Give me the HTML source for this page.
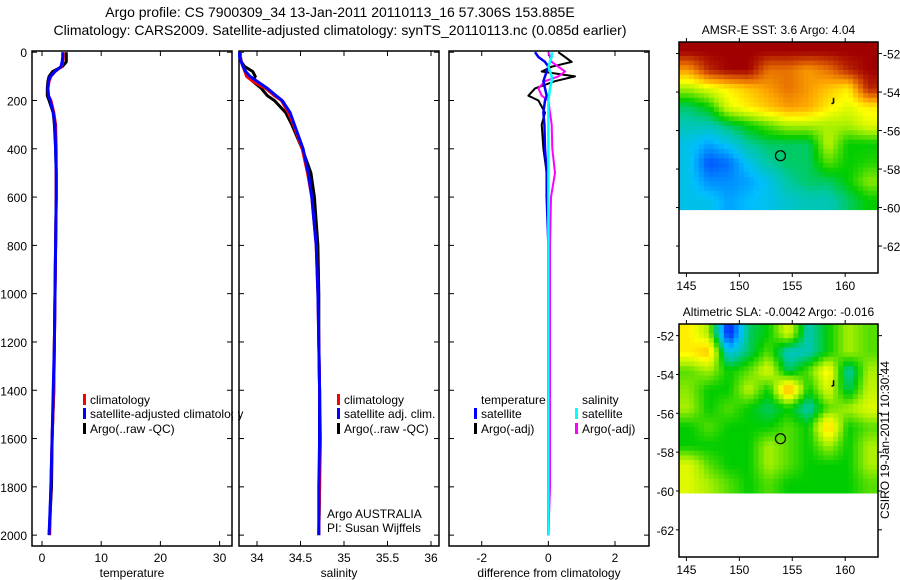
<!DOCTYPE html>
<html><head><meta charset="utf-8"><style>
body{margin:0;background:#fff;}
svg{display:block;font-family:"Liberation Sans",sans-serif;}
text{fill:#000;}
</style></head><body>
<svg id="fig" width="900" height="580" viewBox="0 0 900 580">
<rect width="900" height="580" fill="#fff"/>
<text x="340" y="17" font-size="14" text-anchor="middle">Argo profile: CS 7900309_34 13-Jan-2011 20110113_16 57.306S 153.885E</text>
<text x="340" y="35" font-size="14" text-anchor="middle">Climatology: CARS2009. Satellite-adjusted climatology: synTS_20110113.nc (0.085d earlier)</text>
<g id="g"></g>
</svg>
<script>
// ---- data ----
const depths = [0,20,40,60,80,100,120,150,180,200,250,300,400,500,600,800,1000,1200,1400,1600,1800,2000];
const tempClim = [3.6,3.6,3.5,3.3,2.2,1.5,1.2,1.0,1.1,1.5,2.0,2.3,2.4,2.4,2.4,2.3,2.2,2.1,2.0,1.7,1.5,1.3];
const tempSat  = [3.5,3.5,3.4,3.2,2.2,1.4,1.1,1.0,1.1,1.4,1.9,2.2,2.3,2.4,2.4,2.3,2.2,2.1,1.9,1.7,1.5,1.2];
const tempArgo = [4.1,4.1,4.1,3.4,1.8,1.2,1.0,0.9,0.9,1.2,1.9,2.1,2.3,2.4,2.4,2.3,2.2,2.1,2.0,1.7,1.6,1.2];
const salClim = [33.81,33.81,33.82,33.84,33.86,33.88,33.95,34.10,34.20,34.28,34.36,34.42,34.52,34.58,34.63,34.68,34.70,34.71,34.72,34.73,34.72,34.71];
const salSat  = [33.80,33.80,33.82,33.84,33.87,33.92,34.00,34.12,34.22,34.29,34.38,34.43,34.53,34.59,34.63,34.68,34.70,34.71,34.72,34.72,34.71,34.71];
const salArgo = [33.80,33.81,33.82,33.86,33.95,33.98,33.95,34.05,34.12,34.20,34.33,34.40,34.52,34.62,34.66,34.70,34.71,34.71,34.72,34.72,34.72,34.71];
const dTempSat  = [-0.4,-0.3,-0.1,0.0,-0.05,-0.1,-0.15,-0.1,-0.05,-0.1,-0.15,-0.12,-0.1,-0.05,-0.05,0,0,0,0,0,0,0];
const dTempArgo = [0.3,0.5,0.7,0.1,-0.2,0.8,0.2,-0.4,-0.6,-0.3,-0.1,-0.2,-0.15,-0.05,0,0,0,0,0,0,0,0];
const dSalSat   = [0.1,0.1,0.05,0.0,0.05,0.1,0.1,0.05,0.02,0.0,0.0,0.0,0.0,0.0,0.0,0.0,0.0,0.0,0.0,0.0,0.0,0.0];
const dSalArgo  = [0.0,0.05,0.1,0.3,0.5,0.3,-0.1,-0.3,-0.2,0.0,0.05,0.1,0.12,0.2,0.08,0.05,0.05,0.05,0.05,0.05,0.05,0.0];
const depthTicks = [0,200,400,600,800,1000,1200,1400,1600,1800,2000];
const tempTicks = [0,10,20,30];
const salTicks = [34,34.5,35,35.5,36];
const diffTicks = [-2,0,2];
const latTicks = [-52,-54,-56,-58,-60,-62];
const lonTicks = [145,150,155,160];
// map grids: rows from -51.4 to -60.1, cols from 144.3 to 163.1 (normalized colour index 0..1)
const sstGrid = [
[1,1,1,1,1,1,1,1,1,1],
[0.8,0.95,1,1,0.85,0.85,0.8,0.85,0.95,1],
[0.6,0.65,0.7,0.75,0.8,0.85,0.8,0.75,0.7,0.95],
[0.45,0.5,0.65,0.7,0.75,0.8,0.78,0.7,0.65,0.7],
[0.4,0.4,0.45,0.5,0.55,0.6,0.6,0.6,0.6,0.65],
[0.35,0.3,0.35,0.42,0.45,0.45,0.45,0.62,0.5,0.5],
[0.35,0.22,0.25,0.35,0.42,0.45,0.45,0.55,0.5,0.52],
[0.35,0.28,0.28,0.3,0.35,0.42,0.45,0.45,0.5,0.58],
[0.35,0.35,0.3,0.33,0.35,0.38,0.4,0.4,0.45,0.5]];
const slaGrid = [
[0.7,0.6,0.15,0.45,0.5,0.65,0.4,0.5,0.6,0.55],
[0.7,0.75,0.35,0.45,0.55,0.38,0.4,0.5,0.6,0.55],
[0.55,0.6,0.5,0.55,0.65,0.45,0.55,0.7,0.4,0.6],
[0.58,0.5,0.5,0.62,0.5,0.8,0.5,0.65,0.45,0.62],
[0.6,0.5,0.55,0.5,0.45,0.5,0.4,0.55,0.6,0.65],
[0.5,0.55,0.5,0.5,0.5,0.55,0.5,0.75,0.5,0.55],
[0.5,0.5,0.5,0.5,0.6,0.55,0.5,0.6,0.5,0.6],
[0.65,0.55,0.5,0.5,0.6,0.55,0.5,0.5,0.5,0.6],
[0.65,0.6,0.55,0.5,0.55,0.5,0.5,0.5,0.5,0.55]];

const NS="http://www.w3.org/2000/svg";
const G=document.getElementById('g');
function el(tag,attrs,parent,txt){const e=document.createElementNS(NS,tag);for(const k in attrs)e.setAttribute(k,attrs[k]);if(txt!==undefined)e.textContent=txt;(parent||G).appendChild(e);return e;}
const TOP=51,BOT=546,D0=-5,D1=2045;
const yD=d=>TOP+(d-D0)/(D1-D0)*(BOT-TOP);
function lin(a,b,pa,pb){return v=>pa+(v-a)/(b-a)*(pb-pa);}

function panel(name,L,R,xs,ticks,fmt,xlabel,showY){
  const g=el('g',{});
  
  
  const r=el('rect',{x:L,y:TOP,width:R-L,height:BOT-TOP,fill:'none',stroke:'#000','stroke-width':1.5},g);
  
  
  ticks.forEach(t=>{const x=xs(t);
    el('line',{x1:x,x2:x,y1:BOT,y2:BOT-5,stroke:'#000'},g);
    el('line',{x1:x,x2:x,y1:TOP,y2:TOP+5,stroke:'#000'},g);
    const tx=el('text',{x:x,y:BOT+16,'font-size':12,'text-anchor':'middle'},g,fmt(t));
    
    });
  depthTicks.forEach(d=>{const y=yD(d);
    el('line',{x1:L,x2:L+5,y1:y,y2:y,stroke:'#000'},g);
    el('line',{x1:R,x2:R-5,y1:y,y2:y,stroke:'#000'},g);
    if(showY){const tx=el('text',{x:L-5,y:y+5,'font-size':12,'text-anchor':'end'},g,String(d));
      
      }});
  const xl=el('text',{x:(L+R)/2,y:BOT+31,'font-size':12,'text-anchor':'middle'},g,xlabel);
  
  
  return g;
}
function series(g,vals,xs,color,w,name){
  const pts=vals.map((v,i)=>xs(v).toFixed(1)+','+yD(depths[i]).toFixed(1)).join(' ');
  const p=el('polyline',{points:pts,fill:'none',stroke:color,'stroke-width':w,'stroke-linejoin':'round'},g);
  
  
}
function legend(g,x,y,color,label,name){
  if(color) el('rect',{x:x,y:y-10,width:3,height:11,fill:color},g);
  const t=el('text',{x:x+7,y:y,'font-size':12},g,label);
  
  
}
// panel 1
const xT=lin(0,30,42,219.6);
const p1=panel('temperature-panel',32,232,xT,tempTicks,String,'temperature',true);
series(p1,tempArgo,xT,'#000',3,'argo-temperature-line');
series(p1,tempClim,xT,'#f00',3,'climatology-temperature-line');
series(p1,tempSat,xT,'#00f',3,'satellite-temperature-line');
legend(p1,83,404,'#f00','climatology','legend-climatology');
legend(p1,83,418,'#00f','satellite-adjusted climatology','legend-satellite');
legend(p1,83,433,'#000','Argo(..raw -QC)','legend-argo');
el('rect',{x:233,y:395,width:5,height:45,fill:'#fff'});
// panel 2
const xS=lin(34,36,257,431);
const p2=panel('salinity-panel',239,439,xS,salTicks,String,'salinity',false);
series(p2,salArgo,xS,'#000',3,'argo-salinity-line');
series(p2,salClim,xS,'#f00',3,'climatology-salinity-line');
series(p2,salSat,xS,'#00f',3,'satellite-salinity-line');
legend(p2,337,404,'#f00','climatology','legend-climatology-sal');
legend(p2,337,418,'#00f','satellite adj. clim.','legend-satellite-sal');
legend(p2,337,433,'#000','Argo(..raw -QC)','legend-argo-sal');
legend(p2,320,518,null,'Argo AUSTRALIA','argo-australia-label');
legend(p2,320,532,null,'PI: Susan Wijffels','pi-label');
// panel 3
const xDf=lin(-2,2,481.7,615);
const p3=panel('difference-panel',449,649,xDf,diffTicks,String,'difference from climatology',false);
series(p3,dTempArgo,xDf,'#000',2,'argo-temp-diff-line');
series(p3,dSalArgo,xDf,'#f0f',2,'argo-sal-diff-line');
series(p3,dTempSat,xDf,'#00f',2.5,'satellite-temp-diff-line');
series(p3,dSalSat,xDf,'#0ff',2.5,'satellite-sal-diff-line');
legend(p3,474,404,null,'temperature','legend-temperature-header');
legend(p3,575,404,null,'salinity','legend-salinity-header');
legend(p3,474,418,'#00f','satellite','legend-temp-satellite');
legend(p3,474,433,'#000','Argo(-adj)','legend-temp-argo');
legend(p3,575,418,'#0ff','satellite','legend-sal-satellite');
legend(p3,575,433,'#f0f','Argo(-adj)','legend-sal-argo');

// maps
const stops=[[0,[0,0,143]],[0.2,[0,64,255]],[0.33,[0,190,255]],[0.42,[0,200,160]],[0.5,[0,205,0]],[0.6,[170,240,0]],[0.68,[255,255,0]],[0.78,[255,170,0]],[0.88,[220,90,0]],[1,[160,0,0]]];
function jet(v){for(let i=1;i<stops.length;i++){if(v<=stops[i][0]){const a=stops[i-1],b=stops[i];const f=(v-a[0])/(b[0]-a[0]);const c=a[1].map((x,k)=>Math.round(x+(b[1][k]-x)*f));return 'rgb('+c+')';}}return 'rgb(160,0,0)';}
function sample(grid,r,c){ // bilinear on cell centres
  const R=grid.length,C=grid[0].length;
  const y=Math.min(Math.max(r-0.5,0),R-1), x=Math.min(Math.max(c-0.5,0),C-1);
  const i=Math.floor(y), j=Math.floor(x), i1=Math.min(i+1,R-1), j1=Math.min(j+1,C-1);
  const fy=y-i, fx=x-j;
  return grid[i][j]*(1-fx)*(1-fy)+grid[i][j1]*fx*(1-fy)+grid[i1][j]*(1-fx)*fy+grid[i1][j1]*fx*fy;
}
function map(name,top,bot,title,grid,labelsLeft){
  const g=el('g',{});
  
  
  const L=679,R=878;
  const xL=lin(144.3,163.1,L,R), yL=lin(-51.4,-63.4,top,bot);
  const rows=grid.length, cols=grid[0].length, up=4;
  const lat0=-51.4,lat1=-60.1,lon0=144.3,lon1=163.1;
  for(let i=0;i<rows*up;i++)for(let j=0;j<cols*up;j++){
    const v=sample(grid,(i+0.5)/up,(j+0.5)/up);
    const x0=xL(lon0+(lon1-lon0)*j/(cols*up)), x1=xL(lon0+(lon1-lon0)*(j+1)/(cols*up));
    const y0=yL(lat0+(lat1-lat0)*i/(rows*up)), y1=yL(lat0+(lat1-lat0)*(i+1)/(rows*up));
    const c=el('rect',{x:x0.toFixed(1),y:y0.toFixed(1),width:(x1-x0+0.6).toFixed(1),height:(y1-y0+0.6).toFixed(1),fill:jet(v)},g);
    
    
  }
  const f=el('rect',{x:L,y:top,width:R-L,height:bot-top,fill:'none',stroke:'#000','stroke-width':1.5},g);
  
  
  latTicks.forEach(t=>{const y=yL(t);
    el('line',{x1:R,x2:R+4,y1:y,y2:y,stroke:'#000'},g);
    el('line',{x1:L,x2:L-3,y1:y,y2:y,stroke:'#000'},g);
    const tx=labelsLeft?el('text',{x:L-5,y:y+5,'font-size':12,'text-anchor':'end'},g,String(t)):el('text',{x:R+5,y:y+5,'font-size':12},g,String(t));
    
    });
  lonTicks.forEach(t=>{const x=xL(t);
    el('line',{x1:x,x2:x,y1:top,y2:top-4,stroke:'#000'},g);
    el('line',{x1:x,x2:x,y1:bot,y2:bot+4,stroke:'#000'},g);
    const tx=el('text',{x:x,y:bot+17,'font-size':12,'text-anchor':'middle'},g,String(t));
    
    });
  const tt=el('text',{x:(L+R)/2,y:top-8,'font-size':12,'text-anchor':'middle'},g,title);
  
  
  const m=el('circle',{cx:xL(153.885),cy:yL(-57.306),r:5,fill:'none',stroke:'#000','stroke-width':1.2},g);
  
  
  el('path',{d:`M${xL(158.9)} ${yL(-54.3)} l0 5 l-2 1`,fill:'none',stroke:'#000','stroke-width':1.5},g);
}
map('sst-map',42,273,'AMSR-E SST: 3.6 Argo: 4.04',sstGrid,false);
map('sla-map',324,557,'Altimetric SLA: -0.0042 Argo: -0.016',slaGrid,true);
const cs=el('text',{x:0,y:0,'font-size':12,transform:'translate(889,440) rotate(-90)','text-anchor':'middle'},G,'CSIRO 19-Jan-2011 10:30:44');


</script>
</body></html>
